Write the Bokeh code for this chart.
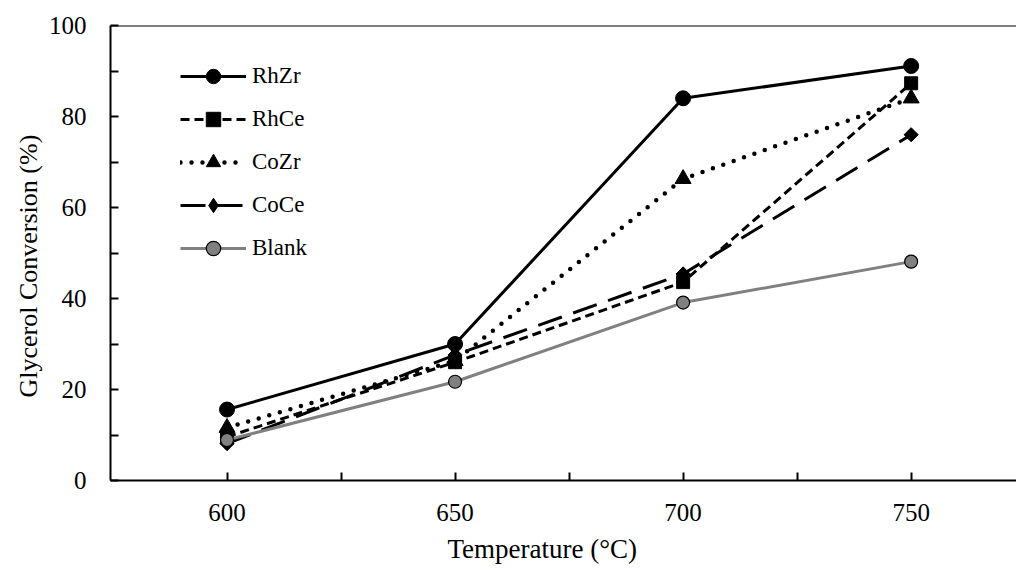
import math
from bokeh.plotting import figure
from bokeh.models import Range1d, Span, Legend, LegendItem, FixedTicker, Title
from bokeh.embed import file_html
from bokeh.resources import INLINE

temps = [600, 650, 700, 750]
rhzr = [15.6, 30.0, 84.0, 91.1]
rhce = [9.6, 26.0, 43.6, 87.3]
cozr = [11.6, 26.3, 66.3, 84.0]
coce = [8.1, 27.6, 45.4, 76.0]
blank = [8.9, 21.7, 39.1, 48.1]

x_ticks = [600, 650, 700, 750]
y_ticks = [0, 20, 40, 60, 80, 100]
x_title = "Temperature (°C)"
y_title = "Glycerol Conversion (%)"

FONT = "Liberation Serif"

p = figure(width=1016, height=572, output_backend="svg", toolbar_location=None,
           x_range=Range1d(574.45, 773.1), y_range=Range1d(0, 100),
           min_border_left=110, min_border_right=0, min_border_top=25, min_border_bottom=92)
p.outline_line_color = None
p.grid.visible = False
p.background_fill_color = "white"
p.border_fill_color = "white"

for ax in (p.xaxis[0], p.yaxis[0]):
    ax.axis_line_width = 2
    ax.axis_line_color = "black"
    ax.major_tick_in = 8
    ax.major_tick_out = 0
    ax.minor_tick_in = 8
    ax.minor_tick_out = 0
    ax.major_tick_line_width = 2
    ax.minor_tick_line_width = 2
    ax.major_tick_line_color = "black"
    ax.minor_tick_line_color = "black"
    ax.major_label_text_font = FONT
    ax.major_label_text_font_size = "25px"
    ax.major_label_text_color = "black"

p.xaxis.ticker = FixedTicker(ticks=x_ticks, minor_ticks=[625, 675, 725])
p.yaxis.ticker = FixedTicker(ticks=y_ticks, minor_ticks=[10, 30, 50, 70, 90])
p.xaxis.major_label_standoff = 23
p.yaxis.major_label_standoff = 24

# axis titles (shifted like the reference)
p.add_layout(Title(text=x_title, text_font=FONT, text_font_size="27px", text_font_style="normal",
                   text_color="black", align="left", offset=337, standoff=16,
                   vertical_align="bottom"), "below")
p.add_layout(Title(text=y_title, text_font=FONT, text_font_size="26px", text_font_style="normal",
                   text_color="black", align="left", offset=83, standoff=6), "left")

p.add_layout(Span(location=100, dimension="width", line_color="black", line_width=2))

items = []
l1 = p.line(temps, rhzr, line_color="black", line_width=3)
s1 = p.scatter(temps, rhzr, marker="circle", size=15, fill_color="black", line_color="black")
items.append(LegendItem(label="RhZr", renderers=[l1, s1]))

l2 = p.line(temps, rhce, line_color="black", line_width=3, line_dash="9 5")
s2 = p.scatter(temps, rhce, marker="square", size=13, fill_color="black", line_color="black")
items.append(LegendItem(label="RhCe", renderers=[l2, s2]))

l3 = p.line(temps, cozr, line_color="black", line_width=4.5, line_dash="0 11", line_cap="round")
s3 = p.scatter(temps, cozr, marker="triangle", size=16, fill_color="black", line_color="black")
items.append(LegendItem(label="CoZr", renderers=[l3, s3]))

l4 = p.line(temps, coce, line_color="black", line_width=3, line_dash="25 12")
s4_leg = p.scatter(temps, coce, marker="diamond", size=12, fill_color="black", line_color="black")
s4 = p.scatter(temps, coce, marker="square", size=10, angle=math.pi / 4,
               fill_color="black", line_color="black")
items.append(LegendItem(label="CoCe", renderers=[l4, s4_leg]))

l5 = p.line(temps, blank, line_color="#808080", line_width=3)
s5 = p.scatter(temps, blank, marker="circle", size=13, fill_color="#808080", line_color="black", line_width=1.2)
items.append(LegendItem(label="Blank", renderers=[l5, s5]))

legend = Legend(items=items, location=(70, 214))
legend.border_line_color = None
legend.background_fill_alpha = 0
legend.padding = 0
legend.margin = 0
legend.glyph_width = 66
legend.glyph_height = 36
legend.label_height = 36
legend.spacing = 7
legend.label_standoff = 6
legend.label_text_font = FONT
legend.label_text_font_size = "23px"
legend.label_text_color = "black"
p.add_layout(legend, "center")

open("out.html", "w").write(file_html(p, INLINE))
